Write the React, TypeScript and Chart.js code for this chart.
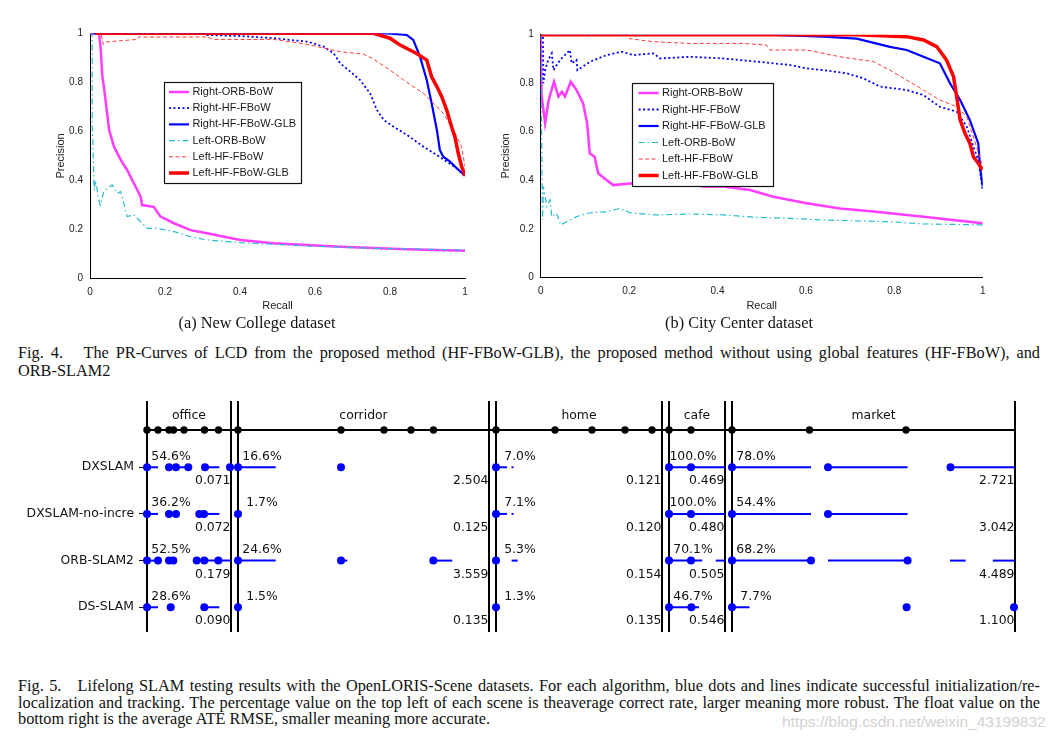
import React, { useEffect, useRef } from 'react';
import { Chart, registerables } from 'chart.js';

Chart.register(...registerables);

type Pt = [number, number];

// ---------------- Fig. 4 data (recall, precision) ----------------
const seriesNames = ['Right-ORB-BoW', 'Right-HF-FBoW', 'Right-HF-FBoW-GLB', 'Left-ORB-BoW', 'Left-HF-FBoW', 'Left-HF-FBoW-GLB'];
const axisTickValues = [0, 0.2, 0.4, 0.6, 0.8, 1];

// (a) New College
const ncRightOrbBoW: Pt[] = [[0, 1], [0.024, 1], [0.028, 0.946], [0.033, 0.823], [0.037, 0.783], [0.051, 0.606], [0.064, 0.538], [0.082, 0.484], [0.099, 0.443], [0.117, 0.389], [0.135, 0.334], [0.139, 0.3], [0.17, 0.293], [0.188, 0.253], [0.224, 0.226], [0.268, 0.198], [0.312, 0.185], [0.401, 0.158], [0.49, 0.144], [0.667, 0.13], [0.845, 0.12], [1, 0.114]];
const ncRightHfFBoW: Pt[] = [[0, 1], [0.3, 1], [0.312, 0.993], [0.401, 0.989], [0.49, 0.98], [0.579, 0.966], [0.623, 0.946], [0.65, 0.918], [0.667, 0.878], [0.694, 0.844], [0.72, 0.81], [0.747, 0.755], [0.765, 0.688], [0.783, 0.647], [0.809, 0.62], [0.845, 0.586], [0.889, 0.538], [0.925, 0.504], [0.951, 0.477], [0.978, 0.45], [1, 0.416]];
const ncRightHfGlb: Pt[] = [[0, 1], [0.791, 1], [0.845, 0.993], [0.862, 0.973], [0.88, 0.905], [0.898, 0.81], [0.911, 0.715], [0.925, 0.606], [0.933, 0.524], [0.942, 0.497], [0.96, 0.477], [0.978, 0.45], [1, 0.42]];
const ncLeftOrbBoW: Pt[] = [[0, 1], [0.006, 1], [0.006, 0.647], [0.011, 0.361], [0.015, 0.402], [0.022, 0.33], [0.027, 0.3], [0.037, 0.355], [0.059, 0.382], [0.073, 0.348], [0.082, 0.355], [0.099, 0.253], [0.117, 0.26], [0.135, 0.232], [0.153, 0.205], [0.179, 0.205], [0.224, 0.192], [0.268, 0.171], [0.312, 0.158], [0.401, 0.147], [0.579, 0.133], [0.756, 0.124], [1, 0.117]];
const ncLeftHfFBoW: Pt[] = [[0, 1], [0.03, 1], [0.035, 0.955], [0.045, 0.965], [0.126, 0.975], [0.13, 0.985], [0.312, 0.985], [0.33, 0.975], [0.49, 0.975], [0.579, 0.955], [0.623, 0.94], [0.667, 0.925], [0.729, 0.915], [0.756, 0.895], [0.8, 0.85], [0.845, 0.8], [0.889, 0.755], [0.916, 0.715], [0.942, 0.674], [0.969, 0.606], [0.991, 0.538], [1, 0.457]];
const ncLeftHfGlb: Pt[] = [[0.015, 1], [0.756, 1], [0.8, 0.98], [0.827, 0.952], [0.871, 0.918], [0.898, 0.891], [0.911, 0.823], [0.925, 0.783], [0.938, 0.742], [0.951, 0.688], [0.964, 0.62], [0.973, 0.579], [0.982, 0.511], [0.991, 0.457], [1, 0.42]];

// (b) City Center
const ccRightOrbBoW: Pt[] = [[0, 1], [0.002, 0.75], [0.01, 0.635], [0.018, 0.73], [0.03, 0.806], [0.04, 0.745], [0.048, 0.765], [0.055, 0.745], [0.068, 0.806], [0.081, 0.772], [0.096, 0.717], [0.105, 0.635], [0.111, 0.511], [0.122, 0.497], [0.13, 0.429], [0.149, 0.401], [0.164, 0.38], [0.202, 0.387], [0.338, 0.387], [0.368, 0.374], [0.413, 0.374], [0.474, 0.36], [0.526, 0.332], [0.602, 0.305], [0.677, 0.284], [0.753, 0.271], [0.866, 0.25], [1, 0.223]];
const ccRightHfFBoW: Pt[] = [[0, 1], [0.005, 1], [0.006, 0.8], [0.01, 0.854], [0.017, 0.896], [0.025, 0.923], [0.029, 0.854], [0.044, 0.896], [0.066, 0.937], [0.07, 0.882], [0.081, 0.896], [0.083, 0.854], [0.112, 0.889], [0.149, 0.916], [0.183, 0.93], [0.21, 0.916], [0.255, 0.923], [0.27, 0.902], [0.338, 0.909], [0.413, 0.902], [0.489, 0.889], [0.564, 0.875], [0.602, 0.861], [0.64, 0.854], [0.692, 0.841], [0.73, 0.82], [0.768, 0.786], [0.828, 0.772], [0.866, 0.751], [0.903, 0.703], [0.941, 0.683], [0.964, 0.621], [0.979, 0.538], [0.99, 0.484], [1, 0.36]];
const ccRightHfGlb: Pt[] = [[0, 1], [0.511, 1], [0.64, 0.992], [0.715, 0.984], [0.79, 0.95], [0.828, 0.937], [0.866, 0.909], [0.903, 0.882], [0.926, 0.8], [0.949, 0.731], [0.971, 0.648], [0.99, 0.552], [0.994, 0.456], [1, 0.374]];
const ccLeftOrbBoW: Pt[] = [[0, 1], [0.002, 0.6], [0.004, 0.236], [0.006, 0.374], [0.014, 0.291], [0.021, 0.319], [0.025, 0.25], [0.036, 0.264], [0.045, 0.216], [0.059, 0.229], [0.081, 0.25], [0.112, 0.266], [0.149, 0.27], [0.179, 0.284], [0.202, 0.266], [0.262, 0.257], [0.338, 0.261], [0.413, 0.257], [0.489, 0.247], [0.564, 0.243], [0.64, 0.236], [0.79, 0.229], [0.866, 0.22], [1, 0.216]];
const ccLeftHfFBoW: Pt[] = [[0, 1], [0.198, 1], [0.2, 0.984], [0.255, 0.971], [0.338, 0.964], [0.459, 0.964], [0.511, 0.957], [0.519, 0.937], [0.602, 0.937], [0.677, 0.909], [0.753, 0.889], [0.79, 0.854], [0.828, 0.813], [0.866, 0.772], [0.903, 0.731], [0.941, 0.703], [0.964, 0.662], [0.986, 0.538], [1, 0.456]];
const ccLeftHfGlb: Pt[] = [[0, 1], [0.715, 1], [0.828, 0.992], [0.866, 0.978], [0.896, 0.951], [0.918, 0.896], [0.934, 0.827], [0.941, 0.745], [0.949, 0.648], [0.96, 0.593], [0.971, 0.552], [0.979, 0.497], [0.99, 0.47], [1, 0.442]];

// ---------------- Fig. 5 data ----------------
const sceneNames = ['office', 'corridor', 'home', 'cafe', 'market'];
const sceneLengths = [84, 251, 166, 56, 283];
const sceneGap = 7;
const sequenceStarts = [[0, 11, 22, 26.5, 37, 57.5, 71.5], [0, 103, 146, 173, 195.5], [0, 59, 96, 129, 156], [0, 22], [0, 77.5, 174]];
const algorithms = ['DXSLAM', 'DXSLAM-no-incre', 'ORB-SLAM2', 'DS-SLAM'];
const correctRate = [
  [54.6, 16.6, 7.0, 100.0, 78.0],
  [36.2, 1.7, 7.1, 100.0, 54.4],
  [52.5, 24.6, 5.3, 70.1, 68.2],
  [28.6, 1.5, 1.3, 46.7, 7.7],
];
const ateRmse = [
  [0.071, 2.504, 0.121, 0.469, 2.721],
  [0.072, 0.125, 0.12, 0.48, 3.042],
  [0.179, 3.559, 0.154, 0.505, 4.489],
  [0.09, 0.135, 0.135, 0.546, 1.1],
];
const dxslamDots = [[0, 22, 29, 41.3, 58, 83], [0, 103], [0], [0, 22], [0, 96, 218.5]];
const dxslamSegments = [[[0, 11], [22, 45], [58, 72.3]], [[0, 37.7]], [[0, 11], [15.5, 17.5]], [[0, 56]], [[0, 79], [96, 175.6], [218.5, 283]]];
const noIncreDots = [[0, 22, 29, 52.3, 57], [0], [0], [0, 22], [0, 96]];
const noIncreSegments = [[[0, 11], [22, 29], [52.3, 72.3]], [], [[0, 11], [15.5, 17.5]], [[0, 56]], [[0, 79], [96, 175.6]]];
const orbDots = [[0, 11, 22, 26.3, 49.7, 57.3, 71.3], [0, 103, 195.3], [0], [0, 22], [0, 79, 175.6]];
const orbSegments = [[[0, 11], [22, 29], [49.7, 84]], [[0, 37.7], [103, 109.3], [195.3, 214.3]], [[15.6, 21.7]], [[0, 33.2], [46.7, 56]], [[0, 79], [96, 175.6], [218, 233.7], [260.8, 283]]];
const dsDots = [[0, 23.7, 57.3], [0], [0], [0, 22.4], [0, 174.6, 282]];
const dsSegments = [[[0, 11], [57.3, 72.3]], [], [], [[0, 30]], [[0, 17.5]]];
const algDots = [dxslamDots, noIncreDots, orbDots, dsDots];
const algSegments = [dxslamSegments, noIncreSegments, orbSegments, dsSegments];

// ---------------- styles ----------------
const SANS = '"Liberation Sans", Arial, Helvetica, sans-serif';
const SERIF = '"Liberation Serif", "Times New Roman", serif';
const DEJAVU = '"DejaVu Sans", sans-serif';
const seriesStyle = [
  { color: '#ff3cff', width: 2.5, dash: [] as number[] },
  { color: '#0000ff', width: 1.8, dash: [2, 2.5] },
  { color: '#0000ff', width: 2.2, dash: [] as number[] },
  { color: '#27bcd1', width: 1.2, dash: [6, 3, 1.5, 3] },
  { color: '#ff3b3b', width: 1, dash: [4, 2.5] },
  { color: '#ff0000', width: 3.5, dash: [] as number[] },
];

type PRCfg = {
  left: number; top: number; width: number; height: number;
  yW: number; xH: number; padTop: number; padRight: number; yTitlePad: number;
  legend: { fx: number; fy: number; rowH: number; first: number; sampleX: number; textX: number; padR: number };
};

const fmtTick = (v: any) => String(Number(v));

function PRChart({ series, cfg }: { series: Pt[][]; cfg: PRCfg }) {
  const ref = useRef<HTMLCanvasElement>(null);
  useEffect(() => {
    const lg = cfg.legend;
    const legendPlugin = {
      id: 'prLegend',
      afterDatasetsDraw(chart: any) {
        const { ctx, chartArea: a } = chart;
        ctx.save();
        ctx.font = `11px ${SANS}`;
        const tw = Math.max(...seriesNames.map((n) => ctx.measureText(n).width));
        const x0 = Math.round(a.left + a.width * lg.fx);
        const y0 = Math.round(a.top + a.height * lg.fy);
        const w = Math.round(lg.textX + tw + lg.padR);
        const h = Math.round(lg.first * 2 + lg.rowH * (seriesNames.length - 1));
        ctx.fillStyle = '#fff';
        ctx.fillRect(x0, y0, w, h);
        ctx.strokeStyle = '#111';
        ctx.lineWidth = 1.2;
        ctx.strokeRect(x0 + 0.5, y0 + 0.5, w, h);
        seriesNames.forEach((n, i) => {
          const yy = y0 + lg.first + i * lg.rowH;
          const st = seriesStyle[i];
          ctx.strokeStyle = st.color;
          ctx.lineWidth = st.width;
          ctx.setLineDash(st.dash);
          ctx.beginPath();
          ctx.moveTo(x0 + lg.sampleX, yy);
          ctx.lineTo(x0 + lg.sampleX + 20, yy);
          ctx.stroke();
          ctx.setLineDash([]);
          ctx.fillStyle = '#1a1a1a';
          ctx.textBaseline = 'middle';
          ctx.textAlign = 'left';
          ctx.fillText(n, x0 + lg.textX, yy);
        });
        ctx.restore();
      },
    };
    const chart = new Chart(ref.current as HTMLCanvasElement, {
      type: 'scatter',
      data: {
        datasets: series.map((s, i) => ({
          label: seriesNames[i],
          data: s.map(([x, y]) => ({ x, y })),
          showLine: true,
          borderColor: seriesStyle[i].color,
          backgroundColor: seriesStyle[i].color,
          borderWidth: seriesStyle[i].width,
          borderDash: seriesStyle[i].dash,
          pointRadius: 0,
          tension: 0,
          order: seriesNames.length - i,
        })),
      },
      options: {
        responsive: false,
        animation: false,
        events: [],
        layout: { padding: { left: 0, top: cfg.padTop, right: cfg.padRight, bottom: 0 } },
        plugins: { legend: { display: false }, tooltip: { enabled: false } },
        scales: {
          x: {
            type: 'linear', min: 0, max: 1,
            afterBuildTicks: (s: any) => { s.ticks = axisTickValues.map((v) => ({ value: v })); },
            ticks: { font: { family: SANS, size: 10 }, color: '#222', padding: 8, callback: fmtTick },
            grid: { display: false, drawTicks: false },
            border: { display: true, color: '#000', width: 1 },
            title: { display: true, text: 'Recall', font: { family: SANS, size: 11 }, color: '#222', padding: { top: 0, bottom: 2.5 } },
            afterFit: (s: any) => { s.height = cfg.xH; },
          },
          y: {
            type: 'linear', min: 0, max: 1,
            afterBuildTicks: (s: any) => { s.ticks = axisTickValues.map((v) => ({ value: v })); },
            ticks: { font: { family: SANS, size: 10 }, color: '#222', padding: 7, callback: fmtTick },
            grid: { display: false, drawTicks: false },
            border: { display: true, color: '#000', width: 1 },
            title: { display: true, text: 'Precision', font: { family: SANS, size: 11 }, color: '#222', padding: { top: cfg.yTitlePad, bottom: 0 } },
            afterFit: (s: any) => { s.width = cfg.yW; },
          },
        },
      } as any,
      plugins: [legendPlugin],
    });
    return () => chart.destroy();
  }, []);
  return (
    <canvas
      ref={ref}
      width={cfg.width}
      height={cfg.height}
      style={{ position: 'absolute', left: cfg.left, top: cfg.top, width: cfg.width, height: cfg.height }}
    />
  );
}

function Fig5Chart() {
  const ref = useRef<HTMLCanvasElement>(null);
  useEffect(() => {
    const offsets: number[] = [];
    let acc = 0;
    sceneLengths.forEach((l) => { offsets.push(acc); acc += l + sceneGap; });
    const totalX = offsets[offsets.length - 1] + sceneLengths[sceneLengths.length - 1];
    const TOP_Y = 0.2;
    const TITLE_Y = -0.105;

    const datasets: any[] = [];
    algorithms.forEach((_, r) => {
      const pts: { x: number; y: number }[] = [];
      algDots[r].forEach((arr, s) => arr.forEach((v) => pts.push({ x: offsets[s] + v, y: r + 1 })));
      datasets.push({ data: pts, pointRadius: 4, pointBackgroundColor: '#0000ff', pointBorderWidth: 0, showLine: false, clip: false });
    });
    const seqPts: { x: number; y: number }[] = [];
    sequenceStarts.forEach((arr, s) => arr.forEach((v) => seqPts.push({ x: offsets[s] + v, y: TOP_Y })));
    datasets.push({ data: seqPts, pointRadius: 3.7, pointBackgroundColor: '#000', pointBorderWidth: 0, showLine: false, clip: false });
    algorithms.forEach((_, r) => {
      algSegments[r].forEach((segs, s) => segs.forEach(([a, b]) => {
        datasets.push({
          data: [{ x: offsets[s] + a, y: r + 1 }, { x: offsets[s] + b, y: r + 1 }],
          showLine: true, pointRadius: 0, borderColor: '#0000ff', borderWidth: 2, clip: false,
        });
      }));
    });

    const framePlugin = {
      id: 'fig5Frame',
      beforeDatasetsDraw(chart: any) {
        const { ctx, chartArea: a, scales: { x, y } } = chart;
        ctx.save();
        ctx.strokeStyle = '#000';
        ctx.lineWidth = 2;
        sceneLengths.forEach((l, s) => {
          [offsets[s], offsets[s] + l].forEach((v) => {
            const px = x.getPixelForValue(v);
            ctx.beginPath();
            ctx.moveTo(px, a.top);
            ctx.lineTo(px, a.bottom);
            ctx.stroke();
          });
        });
        const ty = y.getPixelForValue(TOP_Y);
        ctx.beginPath();
        ctx.moveTo(x.getPixelForValue(0), ty);
        ctx.lineTo(x.getPixelForValue(totalX), ty);
        ctx.stroke();
        ctx.restore();
      },
      afterDatasetsDraw(chart: any) {
        const { ctx, scales: { x, y } } = chart;
        ctx.save();
        ctx.font = `12.4px ${DEJAVU}`;
        ctx.fillStyle = '#111';
        ctx.textBaseline = 'middle';
        sceneNames.forEach((n, s) => {
          ctx.textAlign = 'center';
          ctx.fillText(n, x.getPixelForValue(offsets[s] + sceneLengths[s] / 2), y.getPixelForValue(TITLE_Y));
        });
        algorithms.forEach((_, r) => {
          sceneNames.forEach((__, s) => {
            ctx.textAlign = 'center';
            ctx.fillText(correctRate[r][s].toFixed(1) + '%', x.getPixelForValue(offsets[s] + 24), y.getPixelForValue(r + 1 - 0.235));
            ctx.textAlign = 'right';
            ctx.fillText(ateRmse[r][s].toFixed(3), x.getPixelForValue(offsets[s] + sceneLengths[s]) - 0.5, y.getPixelForValue(r + 1 + 0.3));
          });
        });
        ctx.restore();
      },
    };

    const chart = new Chart(ref.current as HTMLCanvasElement, {
      type: 'scatter',
      data: { datasets },
      options: {
        responsive: false,
        animation: false,
        events: [],
        layout: { padding: { left: 0, top: 6, right: 45, bottom: 8 } },
        plugins: { legend: { display: false }, tooltip: { enabled: false } },
        scales: {
          x: { type: 'linear', min: 0, max: totalX, display: false },
          y: {
            type: 'linear', min: -0.42, max: 4.53, reverse: true,
            afterBuildTicks: (s: any) => { s.ticks = algorithms.map((_, i) => ({ value: i + 1 })); },
            afterFit: (s: any) => { s.width = 147; s.paddingTop = 0; s.paddingBottom = 0; },
            ticks: {
              autoSkip: false,
              callback: (v: any) => algorithms[Math.round(Number(v)) - 1] ?? '',
              font: { family: DEJAVU, size: 12.4 },
              color: '#111',
              padding: 5,
            },
            grid: { display: true, drawOnChartArea: false, drawTicks: true, tickLength: 8, tickColor: '#000', tickWidth: 1 },
            border: { display: false },
          },
        },
      } as any,
      plugins: [framePlugin],
    });
    return () => chart.destroy();
  }, []);
  return (
    <canvas ref={ref} width={1060} height={245} style={{ position: 'absolute', left: 0, top: 395, width: 1060, height: 245 }} />
  );
}

const cfgA: PRCfg = {
  left: 40, top: 20, width: 440, height: 295, yW: 50, xH: 36.3, padTop: 13.3, padRight: 15, yTitlePad: 14,
  legend: { fx: 0.196, fy: 0.197, rowH: 16.2, first: 10, sampleX: 5, textX: 28.4, padR: 5 },
};
const cfgB: PRCfg = {
  left: 490, top: 20, width: 510, height: 295, yW: 50.7, xH: 37.7, padTop: 14.7, padRight: 17.3, yTitlePad: 9.4,
  legend: { fx: 0.206, fy: 0.2, rowH: 16.5, first: 10, sampleX: 6.6, textX: 30, padR: 7 },
};

const lineStyle: React.CSSProperties = { textAlign: 'justify', textAlignLast: 'justify' as any, whiteSpace: 'normal' };

export default function App() {
  return (
    <div style={{ position: 'absolute', left: 0, top: 0, width: 1060, height: 742, background: '#fff', overflow: 'hidden', color: '#111' }}>
      <PRChart series={[ncRightOrbBoW, ncRightHfFBoW, ncRightHfGlb, ncLeftOrbBoW, ncLeftHfFBoW, ncLeftHfGlb]} cfg={cfgA} />
      <PRChart series={[ccRightOrbBoW, ccRightHfFBoW, ccRightHfGlb, ccLeftOrbBoW, ccLeftHfFBoW, ccLeftHfGlb]} cfg={cfgB} />
      <div style={{ position: 'absolute', left: 157, top: 314, width: 200, textAlign: 'center', font: `16.3px/18px ${SERIF}`, whiteSpace: 'nowrap' }}>(a) New College dataset</div>
      <div style={{ position: 'absolute', left: 639, top: 314, width: 200, textAlign: 'center', font: `16.3px/18px ${SERIF}`, whiteSpace: 'nowrap' }}>(b) City Center dataset</div>

      <div style={{ position: 'absolute', left: 18, top: 344, width: 1022, font: `16.3px/18px ${SERIF}` }}>
        <div style={lineStyle}>Fig. 4.&nbsp;&nbsp; The PR-Curves of LCD from the proposed method (HF-FBoW-GLB), the proposed method without using global features (HF-FBoW), and</div>
        <div>ORB-SLAM2</div>
      </div>

      <Fig5Chart />

      <div style={{ position: 'absolute', left: 782, top: 713, font: `15.5px/18px ${SANS}`, color: '#d2d2d2', whiteSpace: 'nowrap' }}>https://blog.csdn.net/weixin_43199832</div>
      <div style={{ position: 'absolute', left: 18, top: 678, width: 1022, font: `16.3px/16.5px ${SERIF}` }}>
        <div style={lineStyle}>Fig. 5.&nbsp;&nbsp; Lifelong SLAM testing results with the OpenLORIS-Scene datasets. For each algorithm, blue dots and lines indicate successful initialization/re-</div>
        <div style={lineStyle}>localization and tracking. The percentage value on the top left of each scene is theaverage correct rate, larger meaning more robust. The float value on the</div>
        <div>bottom right is the average ATE RMSE, smaller meaning more accurate.</div>
      </div>
    </div>
  );
}
